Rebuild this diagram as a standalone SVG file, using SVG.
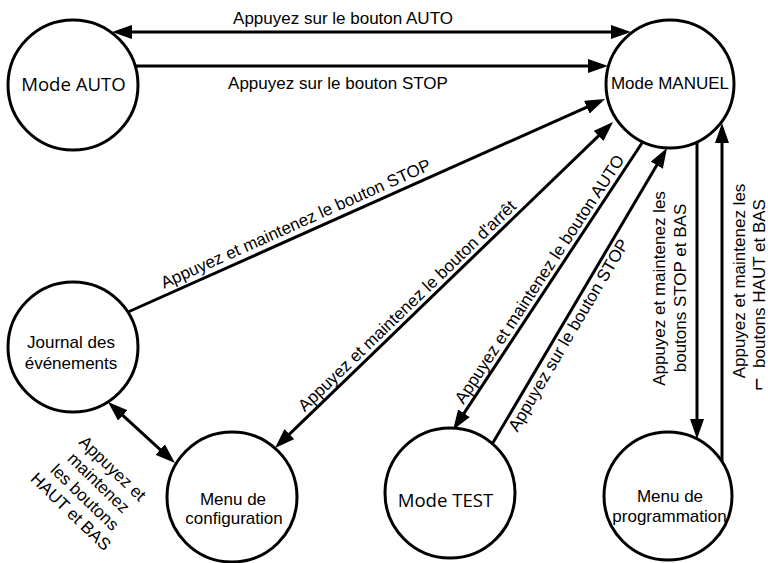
<svg xmlns="http://www.w3.org/2000/svg" width="768" height="563" viewBox="0 0 768 563">
<style>
.n{fill:#fff;stroke:#000;stroke-width:3}
.t{font-family:"Liberation Sans",Arial,sans-serif;font-size:17px;fill:#000}
.o{font-family:"Open Sans",sans-serif;font-size:18.6px;fill:#000}
.c{stroke:#000;stroke-width:3;fill:none}
.e{marker-end:url(#ah)}
.s{marker-start:url(#ah)}
</style>
<defs>
<marker id="ah" markerUnits="userSpaceOnUse" markerWidth="20" markerHeight="14" refX="10" refY="7" orient="auto-start-reverse" viewBox="0 0 20 14">
<path d="M0,0 L20,7 L0,14 z" fill="#000"/>
</marker>
</defs>
<rect width="768" height="563" fill="#fff"/>
<g id="connectors">
<line class="c e s" x1="122" y1="32" x2="621" y2="32"/>
<line class="c e" x1="136" y1="66" x2="598" y2="66"/>
<line class="c e" x1="128" y1="312" x2="595.9" y2="103.1"/>
<line class="c e s" x1="282.2" y1="441.1" x2="605.8" y2="128.9"/>
<line class="c e" x1="642" y1="143" x2="458.5" y2="421.6"/>
<line class="c e" x1="491" y1="446" x2="661.9" y2="156.6"/>
<line class="c e" x1="697" y1="142" x2="697" y2="429"/>
<line class="c e" x1="722" y1="462" x2="722" y2="133"/>
<line class="c e s" x1="115.4" y1="408.7" x2="167.6" y2="456.3"/>
<text class="t" x="343" y="24" text-anchor="middle">Appuyez sur le bouton AUTO</text>
<text class="t" x="338" y="89" text-anchor="middle">Appuyez sur le bouton STOP</text>
<text class="t" text-anchor="middle" transform="translate(298,229) rotate(-24.06)">Appuyez et maintenez le bouton STOP</text>
<text class="t" text-anchor="middle" transform="translate(411,310) rotate(-43.96)">Appuyez et maintenez le bouton d'arrêt</text>
<text class="t" text-anchor="middle" transform="translate(544.3,282.3) rotate(-56.63)">Appuyez et maintenez le bouton AUTO</text>
<text class="t" text-anchor="middle" transform="translate(573.3,338.1) rotate(-59.43)">Appuyez sur le bouton STOP</text>
<text class="t" text-anchor="middle" transform="translate(665,288.5) rotate(-90)"><tspan x="0" y="0">Appuyez et maintenez les</tspan><tspan x="0.5" y="21">boutons STOP et BAS</tspan></text>
<text class="t" text-anchor="middle" transform="translate(745,281) rotate(-90)"><tspan x="0" y="0">Appuyez et maintenez les</tspan><tspan x="-2.5" y="20">boutons HAUT et BAS</tspan></text>
<text class="t" text-anchor="middle" style="font-size:22px" transform="translate(764,384) rotate(-90)">⌐</text>
<text class="t" text-anchor="middle" transform="translate(108.5,472.6) rotate(44)"><tspan x="0" y="0">Appuyez et</tspan><tspan x="0" y="20">maintenez</tspan><tspan x="0" y="40">les boutons</tspan><tspan x="0" y="60">HAUT et BAS</tspan></text>
</g>
<g id="mode-auto">
<circle class="n" cx="73" cy="85" r="65"/>
<text class="o" x="73.5" y="91" text-anchor="middle">Mode AUTO</text>
</g>
<g id="mode-manuel">
<circle class="n" cx="670" cy="84" r="64"/>
<text class="t" x="670" y="89.3" text-anchor="middle">Mode MANUEL</text>
</g>
<g id="journal">
<circle class="n" cx="73" cy="347" r="65"/>
<text class="t" x="71" y="348" text-anchor="middle">Journal des</text>
<text class="t" x="71" y="369" text-anchor="middle">événements</text>
</g>
<g id="menu-config">
<circle class="n" cx="232" cy="497" r="65"/>
<text class="t" x="233" y="505" text-anchor="middle">Menu de</text>
<text class="t" x="234" y="524" text-anchor="middle">configuration</text>
</g>
<g id="mode-test">
<circle class="n" cx="450" cy="493" r="65"/>
<text class="o" x="445.5" y="506.7" text-anchor="middle">Mode TEST</text>
</g>
<g id="menu-prog">
<circle class="n" cx="668" cy="496" r="64"/>
<text class="t" x="670" y="502" text-anchor="middle">Menu de</text>
<text class="t" x="669.5" y="522" text-anchor="middle">programmation</text>
</g>
</svg>
